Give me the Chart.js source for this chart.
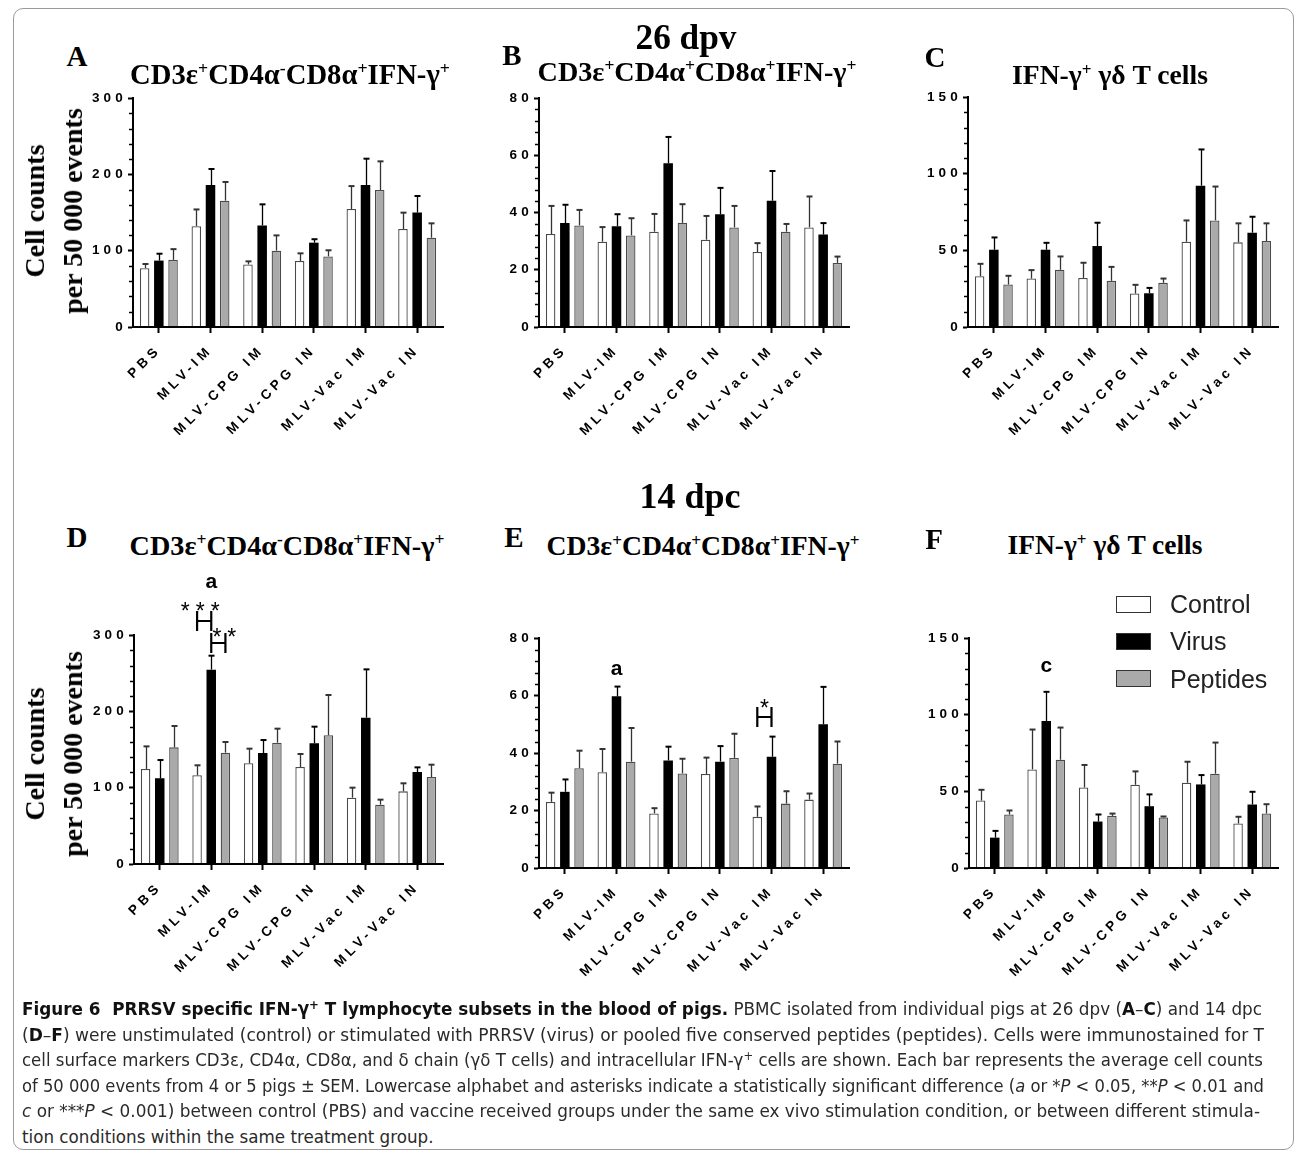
<!DOCTYPE html>
<html><head><meta charset="utf-8">
<script src="https://cdn.jsdelivr.net/npm/chart.js@4.4.1/dist/chart.umd.min.js"></script>
<style>
html,body{margin:0;padding:0;background:#fff;}
#root{position:relative;width:1295px;height:1154px;overflow:hidden;background:#fff;}
.frame{position:absolute;left:13px;top:8px;width:1281px;height:1142px;border:1.3px solid #9a9a9a;border-radius:10px;box-sizing:border-box;}
.serif{position:absolute;font-family:'Liberation Serif','Times New Roman',serif;font-weight:bold;color:#000;white-space:nowrap;line-height:1;transform:translate(-50%,-50%);}
.sup{font-size:0.62em;position:relative;top:-0.55em;}
.ytitle{font-size:28px;line-height:38px;text-align:center;transform:translate(-50%,-50%) rotate(-90deg);}
.leg{position:absolute;font-family:'Liberation Sans',Arial,sans-serif;font-size:25px;color:#222;white-space:nowrap;line-height:1;}
.box{position:absolute;width:33px;height:15px;border:1.6px solid #333;}
.cap{position:absolute;left:22px;font-family:'Liberation Sans Narrow','DejaVu Sans Condensed','Roboto',sans-serif;font-size:18.5px;line-height:20px;color:#2a2a2a;white-space:nowrap;transform-origin:0 50%;}
.cap b{color:#111;}
.cap .s{font-size:0.7em;position:relative;top:-0.5em;}
canvas{position:absolute;}
</style></head>
<body><div id="root">
<div class="frame"></div>
</div>
<script>
// ---------- DATA ----------
const categories = ['PBS','MLV-IM','MLV-CPG IM','MLV-CPG IN','MLV-Vac IM','MLV-Vac IN'];
const seriesNames = ['Control','Virus','Peptides'];

// Panel A (26 dpv, CD3e+CD4a-CD8a+IFN-g+)
const aControl    = [77, 132, 82, 86.5, 154.6, 128.4];
const aControlSem = [5.5, 22, 4, 10, 30, 21.4];
const aVirus      = [87, 186, 133, 110.5, 186, 150];
const aVirusSem   = [9, 21, 27.7, 4.5, 34.5, 21.6];
const aPeptides   = [88, 165.5, 100, 92.5, 179.5, 117];
const aPeptidesSem= [14, 24.5, 20, 8, 37.5, 18.8];

// Panel B (26 dpv, CD3e+CD4a+CD8a+IFN-g+)
const bControl    = [32.5, 29.8, 33.3, 30.5, 26.2, 34.8];
const bControlSem = [9.8, 5.1, 6.2, 8.3, 3.1, 10.8];
const bVirus      = [36.3, 35.2, 57.2, 39.4, 44.1, 32.3];
const bVirusSem   = [6.4, 4.2, 9.2, 9.2, 10.4, 4.0];
const bPeptides   = [35.5, 32.0, 36.4, 34.8, 33.3, 22.4];
const bPeptidesSem= [5.4, 6.0, 6.5, 7.5, 2.7, 2.2];

// Panel C (26 dpv, IFN-g+ gd T cells)
const cControl    = [33.1, 31.6, 32.0, 21.8, 55.6, 55.2];
const cControlSem = [8.1, 5.5, 9.9, 5.7, 13.9, 12.4];
const cVirus      = [50.4, 50.4, 52.8, 22.0, 92.2, 61.5];
const cVirusSem   = [8.0, 4.5, 15.2, 3.5, 23.6, 10.4];
const cPeptides   = [27.7, 37.3, 30.1, 28.8, 69.5, 56.1];
const cPeptidesSem= [5.7, 8.7, 9.1, 2.8, 22.1, 11.5];

// Panel D (14 dpc, CD3e+CD4a-CD8a+IFN-g+)
const dControl    = [124.5, 116.2, 131.9, 127.1, 86.9, 95.2];
const dControlSem = [29.6, 13.1, 19.2, 17.0, 13.1, 10.5];
const dVirus      = [112.2, 254.6, 145.4, 158.1, 191.7, 120.5];
const dVirusSem   = [24.0, 18.3, 17.0, 21.8, 63.3, 6.1];
const dPeptides   = [152.8, 145.9, 159.0, 168.6, 77.7, 114.0];
const dPeptidesSem= [28.0, 13.9, 18.3, 52.8, 6.6, 16.1];

// Panel E (14 dpc, CD3e+CD4a+CD8a+IFN-g+)
const eControl    = [23.0, 33.3, 19.0, 32.7, 17.8, 23.8];
const eControlSem = [3.2, 8.1, 1.8, 5.7, 3.6, 2.1];
const eVirus      = [26.5, 59.7, 37.4, 37.0, 38.7, 50.0];
const eVirusSem   = [4.3, 3.4, 4.8, 5.4, 7.0, 13.0];
const ePeptides   = [34.7, 37.0, 32.9, 38.3, 22.4, 36.3];
const ePeptidesSem= [6.1, 11.7, 5.1, 8.4, 4.3, 7.7];

// Panel F (14 dpc, IFN-g+ gd T cells)
const fControl    = [44.0, 64.3, 52.5, 54.3, 55.6, 29.0];
const fControlSem = [7.0, 26.0, 14.7, 8.7, 13.7, 4.4];
const fVirus      = [19.8, 95.9, 30.3, 40.3, 54.5, 41.4];
const fVirusSem   = [4.4, 19.0, 4.6, 7.7, 6.1, 8.3];
const fPeptides   = [34.9, 70.6, 34.0, 32.9, 61.5, 35.5];
const fPeptidesSem= [2.6, 21.0, 1.5, 0.7, 20.3, 6.1];

// Axis ticks per panel
const yMax      = [300, 80, 150, 300, 80, 150];
const yMajor    = [100, 20, 50, 100, 20, 50];
const yMinor    = [20, 4, 10, 20, 4, 10];

// Significance marks (value = data-coordinate of mark)
const sigLetters  = [
  {panel:'D', cat:1, series:1, value:361, text:'a'},
  {panel:'E', cat:1, series:1, value:67.1, text:'a'},
  {panel:'F', cat:1, series:1, value:127.9, text:'c'}
];
const sigBrackets = [
  {panel:'D', cat:1, from:0, to:1, value:318.3, stars:'***', starValue:321, dx:-4},
  {panel:'D', cat:1, from:1, to:2, value:290, stars:'**', starValue:287, dx:6},
  {panel:'E', cat:4, from:0, to:1, value:52.6, stars:'*', starValue:52.8, dx:0}
];

// ---------- LAYOUT / STYLE ----------
const fills   = ['#ffffff', '#000000', '#aaaaaa'];
const borders = ['#4a4a4a', '#000000', '#4a4a4a'];
const errCol  = ['#333333', '#000000', '#333333'];

const panels = [
  {id:'A', rect:[133, 98, 443, 327],  data:[aControl,aVirus,aPeptides], sem:[aControlSem,aVirusSem,aPeptidesSem], padTop:12},
  {id:'B', rect:[539, 98, 849, 327],  data:[bControl,bVirus,bPeptides], sem:[bControlSem,bVirusSem,bPeptidesSem], padTop:12},
  {id:'C', rect:[968, 97, 1278, 327], data:[cControl,cVirus,cPeptides], sem:[cControlSem,cVirusSem,cPeptidesSem], padTop:12},
  {id:'D', rect:[134, 635, 443, 864], data:[dControl,dVirus,dPeptides], sem:[dControlSem,dVirusSem,dPeptidesSem], padTop:70},
  {id:'E', rect:[539, 638, 849, 868], data:[eControl,eVirus,ePeptides], sem:[eControlSem,eVirusSem,ePeptidesSem], padTop:40},
  {id:'F', rect:[969, 638, 1278, 868], data:[fControl,fVirus,fPeptides], sem:[fControlSem,fVirusSem,fPeptidesSem], padTop:40}
];

const root = document.getElementById('root');
const TICK_FONT = {family:"'Liberation Sans', Arial, sans-serif", weight:'bold', size:13.5};
const LS = '4.2px';

function makePlugin(p, idx){
  return {
    id:'custom'+p.id,
    beforeDraw(chart){ chart.ctx.letterSpacing = LS; },
    afterDatasetsDraw(chart){
      const ctx = chart.ctx, ys = chart.scales.y;
      ctx.save();
      ctx.letterSpacing = '0px';
      chart.data.datasets.forEach((ds, di) => {
        const meta = chart.getDatasetMeta(di);
        meta.data.forEach((bar, i) => {
          const top = ys.getPixelForValue(ds.data[i] + ds.sem[i]);
          const x = Math.round(bar.x) + 0.5;
          ctx.strokeStyle = errCol[di];
          ctx.lineWidth = 1.3;
          ctx.beginPath(); ctx.moveTo(x, bar.y); ctx.lineTo(x, top); ctx.stroke();
          ctx.lineWidth = 2;
          ctx.beginPath(); ctx.moveTo(x - 3, top); ctx.lineTo(x + 3, top); ctx.stroke();
        });
      });
      ctx.restore();
    },
    afterDraw(chart){
      const ctx = chart.ctx, ys = chart.scales.y;
      ctx.save();
      ctx.letterSpacing = '0px';
      // minor ticks
      const left = chart.chartArea.left;
      ctx.strokeStyle = '#000'; ctx.lineWidth = 1.5;
      for (let k = 0; k * yMinor[idx] <= yMax[idx] + 1e-9; k++) {
        const v = k * yMinor[idx];
        if (Math.abs(v / yMajor[idx] - Math.round(v / yMajor[idx])) < 1e-6) continue;
        const y = Math.round(ys.getPixelForValue(v)) + 0.5;
        ctx.beginPath(); ctx.moveTo(left - 4, y); ctx.lineTo(left, y); ctx.stroke();
      }
      // letters
      ctx.fillStyle = '#000'; ctx.textAlign = 'center'; ctx.textBaseline = 'alphabetic';
      sigLetters.filter(s => s.panel === p.id).forEach(s => {
        const bar = chart.getDatasetMeta(s.series).data[s.cat];
        ctx.font = "bold 21px 'Liberation Sans', Arial, sans-serif";
        ctx.fillText(s.text, bar.x, ys.getPixelForValue(s.value));
      });
      // brackets
      sigBrackets.filter(s => s.panel === p.id).forEach(s => {
        const x1 = chart.getDatasetMeta(s.from).data[s.cat].x;
        const x2 = chart.getDatasetMeta(s.to).data[s.cat].x;
        const yc = Math.round(ys.getPixelForValue(s.value));
        ctx.strokeStyle = '#000'; ctx.lineWidth = 2.2;
        ctx.beginPath();
        ctx.moveTo(x1, yc - 10); ctx.lineTo(x1, yc + 10);
        ctx.moveTo(x2, yc - 10); ctx.lineTo(x2, yc + 10);
        ctx.moveTo(x1, yc); ctx.lineTo(x2, yc);
        ctx.stroke();
        ctx.font = "23px 'Liberation Sans', Arial, sans-serif";
        ctx.letterSpacing = '6px';
        ctx.fillText(s.stars, (x1 + x2) / 2 + s.dx + 3, ys.getPixelForValue(s.starValue));
        ctx.letterSpacing = '0px';
      });
      ctx.restore();
      chart.ctx.letterSpacing = '0px';
    }
  };
}

panels.forEach((p, idx) => {
  const yW = 45, xH = 150, padRight = 20;
  const [l, t, r, b] = p.rect;
  const W = (r - l) + yW + padRight, H = (b - t) + p.padTop + xH;
  const cv = document.createElement('canvas');
  cv.width = W; cv.height = H;
  cv.style.left = (l - yW) + 'px'; cv.style.top = (t - p.padTop) + 'px';
  cv.style.width = W + 'px'; cv.style.height = H + 'px';
  root.appendChild(cv);
  new Chart(cv, {
    type: 'bar',
    data: {
      labels: categories,
      datasets: seriesNames.map((n, i) => ({
        label: n, data: p.data[i], sem: p.sem[i],
        backgroundColor: fills[i], borderColor: borders[i], borderWidth: i === 1 ? 0 : 1.3,
        barPercentage: 0.67, categoryPercentage: 0.825
      }))
    },
    options: {
      responsive: false, animation: false, devicePixelRatio: 1,
      layout: {padding: {top: p.padTop, right: padRight, left: 0, bottom: 0}},
      plugins: {legend: {display: false}, tooltip: {enabled: false}, title: {display: false}},
      scales: {
        x: {
          grid: {display: true, offset: false, drawOnChartArea: false, drawTicks: true, tickLength: 6, tickWidth: 2, tickColor: '#000'},
          border: {display: true, color: '#000', width: 2, z: 1},
          ticks: {autoSkip: false, maxRotation: 45, minRotation: 45, color: '#000', font: TICK_FONT, padding: 9},
          afterFit: s => { s.height = xH; }
        },
        y: {
          min: 0, max: yMax[idx],
          grid: {display: true, drawOnChartArea: false, drawTicks: true, tickLength: 5, tickWidth: 2, tickColor: '#000'},
          border: {display: true, color: '#000', width: 2, z: 1},
          ticks: {stepSize: yMajor[idx], color: '#000', font: TICK_FONT, padding: 1},
          afterFit: s => { s.width = yW; }
        }
      }
    },
    plugins: [makePlugin(p, idx)]
  });
});

// ---------- TEXT ----------
function add(html, cls, style){
  const d = document.createElement('div');
  d.className = cls; d.innerHTML = html; d.style.cssText += style;
  root.appendChild(d); return d;
}
function fitFont(el, w){
  const bw = el.getBoundingClientRect().width;
  const fs = parseFloat(getComputedStyle(el).fontSize);
  el.style.fontSize = (fs * w / bw) + 'px';
}
const t1 = 'CD3ε<span class="sup">+</span>CD4α<span class="sup">-</span>CD8α<span class="sup">+</span>IFN-γ<span class="sup">+</span>';
const t2 = 'CD3ε<span class="sup">+</span>CD4α<span class="sup">+</span>CD8α<span class="sup">+</span>IFN-γ<span class="sup">+</span>';
const t3 = 'IFN-γ<span class="sup">+</span> γδ T cells';
const titles = [
  [t1, 290, 74, 320], [t2, 697, 72, 319], [t3, 1110, 75, 196],
  [t1, 287, 546, 315], [t2, 703, 546, 313], [t3, 1105, 546, 195]
];
titles.forEach(([h, x, y, w]) => { const e = add(h, 'serif', `left:${x}px;top:${y}px;font-size:25px;`); fitFont(e, w); });
[['A',77,56],['B',512,55],['C',935,57],['D',77,537],['E',514,537],['F',934,539]].forEach(([h,x,y]) =>
  add(h, 'serif', `left:${x}px;top:${y}px;font-size:29px;`));
const dpv = add('26 dpv', 'serif', 'left:686px;top:38px;font-size:34px;'); fitFont(dpv, 101);
const dpc = add('14 dpc', 'serif', 'left:690px;top:496px;font-size:34px;'); fitFont(dpc, 101);
add('Cell counts<br>per 50 000 events', 'serif ytitle', 'left:54px;top:211px;');
add('Cell counts<br>per 50 000 events', 'serif ytitle', 'left:54px;top:754px;');

// legend
seriesNames.forEach((n, i) => {
  const cy = 604 + i * 37.3;
  add('', 'box', `left:1116px;top:${cy - 8.5}px;background:${fills[i]};`);
  add(n, 'leg', `left:1170px;top:${cy}px;transform:translateY(-50%);`);
});

// caption
const capLines = [
  ['<b>Figure 6&nbsp; PRRSV specific IFN-γ<span class="s">+</span> T lymphocyte subsets in the blood of pigs.</b> PBMC isolated from individual pigs at 26 dpv (<b>A</b>–<b>C</b>) and 14 dpc', 1240],
  ['(<b>D</b>–<b>F</b>) were unstimulated (control) or stimulated with PRRSV (virus) or pooled five conserved peptides (peptides). Cells were immunostained for T', 1242],
  ['cell surface markers CD3ε, CD4α, CD8α, and δ chain (γδ T cells) and intracellular IFN-γ<span class="s">+</span> cells are shown. Each bar represents the average cell counts', 1241],
  ['of 50 000 events from 4 or 5 pigs ± SEM. Lowercase alphabet and asterisks indicate a statistically significant difference (<i>a</i> or *<i>P</i> &lt; 0.05, **<i>P</i> &lt; 0.01 and', 1242],
  ['<i>c</i> or ***<i>P</i> &lt; 0.001) between control (PBS) and vaccine received groups under the same ex vivo stimulation condition, or between different stimula-', 1238],
  ['tion conditions within the same treatment group.', 0]
];
let ks = [];
capLines.forEach(([h, w], i) => {
  const cy = 1009 + i * 25.5;
  const e = add(h, 'cap', `top:${cy - 10}px;`);
  const nat = e.getBoundingClientRect().width;
  let k;
  if (w > 0) { k = w / nat; ks.push(k); } else { k = ks.reduce((a, b) => a + b, 0) / ks.length; }
  e.style.transform = `scaleX(${k})`;
});
</script>
</body></html>
